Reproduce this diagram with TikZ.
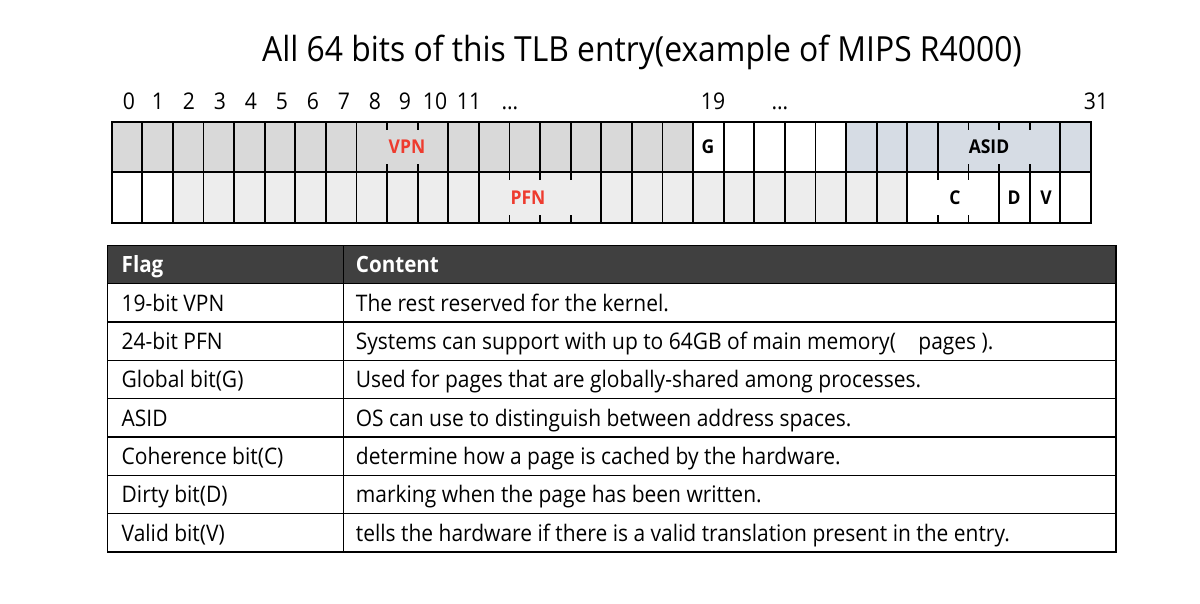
\documentclass[tikz,border=0pt]{standalone}
\usepackage{fontspec}
\setmainfont{Open Sans}[FakeStretch=0.92]
\usepackage{xcolor}
\definecolor{fieldRed}{HTML}{EE3B2E}
\definecolor{vpnGray}{HTML}{D9D9D9}
\definecolor{pfnGray}{HTML}{EDEDED}
\definecolor{asidBlue}{HTML}{D6DCE4}
\definecolor{headDark}{HTML}{404040}
\usetikzlibrary{positioning}
\tikzset{
    cellgrid/.style={draw=black, line width=1.8pt},
    tablegrid/.style={draw=black, line width=1.5pt},
    bitnum/.style={anchor=base, inner sep=0pt, font=\fontsize{23}{23}\selectfont},
    fieldlbl/.style={inner sep=0pt, font=\fontsize{19}{19}\selectfont\bfseries},
    celltext/.style={anchor=base west, inner sep=0pt, font=\fontsize{22.8}{22.8}\selectfont},
    headtext/.style={celltext, text=white, font=\fontsize{22.4}{22.4}\selectfont\bfseries}
}

\begin{document}
\begin{tikzpicture}[x=1pt, y=-1pt]
  % Parameters
  \def\X{111.7}  % left edge of bit grid
  \def\W{30.6}   % width of one bit
  \def\Ya{122}   % top of grid
  \def\Yb{172}   % middle line
  \def\Yc{223}   % bottom of grid
  \def\tick{8}   % tick length for merged cells

  % Bounding box
  \path[use as bounding box] (0,0) rectangle (1200,604);

  % Title
  \node[anchor=base, inner sep=0pt, font=\fontsize{34.6}{34.6}\selectfont] (title) at (642,61.7)
    {All 64 bits of this TLB entry(example of MIPS R4000)};

  % Bit numbers
  \foreach \x/\t [count=\i] in {129/0,158/1,189/2,220/3,251/4,282/5,313/6,344/7,
      375/8,405/9,435/10,469/11,510/\dots,713/19,780/\dots,1096/31}{
    \node[bitnum] (num\i) at (\x,110) {\t};
  }

  % Cell fills
  \fill[vpnGray]  (\X,\Ya) rectangle ({\X+19*\W},\Yb);
  \fill[asidBlue] ({\X+24*\W},\Ya) rectangle ({\X+32*\W},\Yb);
  \fill[pfnGray]  ({\X+2*\W},\Yb) rectangle ({\X+26*\W},\Yc);

  % Cell borders, top row
  \foreach \a/\b in {1/8,11/27,31/31}{
    \foreach \k in {\a,...,\b}{
      \draw[cellgrid] ({\X+\k*\W},\Ya) -- ({\X+\k*\W},\Yb);
    }
  }
  % Cell borders, bottom row
  \foreach \a/\b in {1/12,16/26,29/31}{
    \foreach \k in {\a,...,\b}{
      \draw[cellgrid] ({\X+\k*\W},\Yb) -- ({\X+\k*\W},\Yc);
    }
  }
  % Ticks inside merged fields
  \foreach \k in {9,10,28,29,30}{
    \draw[cellgrid] ({\X+\k*\W},\Ya) -- ++(0,\tick);
    \draw[cellgrid] ({\X+\k*\W},\Yb) -- ++(0,-\tick);
  }
  \foreach \k in {13,14,15,27,28}{
    \draw[cellgrid] ({\X+\k*\W},\Yb) -- ++(0,\tick);
    \draw[cellgrid] ({\X+\k*\W},\Yc) -- ++(0,-\tick);
  }
  \draw[cellgrid] (\X,\Yb) -- ({\X+32*\W},\Yb);
  \draw[cellgrid] (\X,\Ya) rectangle ({\X+32*\W},\Yc);

  % Field labels
  \node[fieldlbl, text=fieldRed] (vpn)  at (407,147) {VPN};
  \node[fieldlbl, text=fieldRed] (pfn)  at (528,198) {PFN};
  \node[fieldlbl] (gbit) at (708,147) {G};
  \node[fieldlbl] (asid) at (989,147) {ASID};
  \node[fieldlbl] (cbit) at (955,198) {C};
  \node[fieldlbl] (dbit) at (1014,198) {D};
  \node[fieldlbl] (vbit) at (1046,198) {V};

  % Table
  \def\TL{107.5}  % left
  \def\TR{1116}   % right
  \def\TC{343.3}  % column divider
  \def\TH{245.3}  % header top
  \def\TB{283.7}  % header bottom
  \def\RH{38.33}  % row height

  \fill[headDark] (\TL,\TH) rectangle (\TR,\TB);
  \node[headtext] (hflag) at ({\TL+14},{\TH+27.6}) {Flag};
  \node[headtext] (hcont) at ({\TC+12.4},{\TH+27.6}) {Content};

  \foreach \flag/\txt [count=\i] in {
      19-bit VPN/The rest reserved for the kernel.,
      24-bit PFN/Systems can support with up to 64GB of main memory(\hspace{17pt} pages ).,
      Global bit(G)/Used for pages that are globally-shared among processes.,
      ASID/OS can use to distinguish between address spaces.,
      Coherence bit(C)/determine how a page is cached by the hardware.,
      Dirty bit(D)/marking when the page has been written.,
      Valid bit(V)/tells the hardware if there is a valid translation present in the entry.}{
    \node[celltext] (flag\i) at ({\TL+14},{\TB+(\i-1)*\RH+27.6}) {\flag};
    \node[celltext] (cont\i) at ({\TC+12.4},{\TB+(\i-1)*\RH+27.6}) {\txt};
    \draw[tablegrid] (\TL,{\TB+\i*\RH}) -- (\TR,{\TB+\i*\RH});
  }
  \draw[tablegrid] (\TL,\TB) -- (\TR,\TB);
  \draw[tablegrid] (\TC,\TH) -- (\TC,{\TB+7*\RH});
  \draw[tablegrid] (\TL,\TH) rectangle (\TR,{\TB+7*\RH});

\end{tikzpicture}
\end{document}
